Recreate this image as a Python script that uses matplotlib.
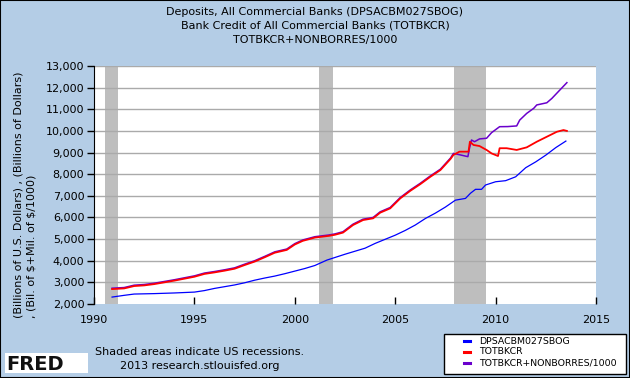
import matplotlib
matplotlib.use("Agg")
import matplotlib.pyplot as plt
from matplotlib.patches import Rectangle
from matplotlib.lines import Line2D
from matplotlib.ticker import FuncFormatter

# Deposits, All Commercial Banks (DPSACBM027SBOG)
dep_t = [1990.9, 1991.5, 1992.0, 1993.0, 1994.0, 1995.0, 1995.5, 1996.0, 1996.5, 1997.0,
         1997.5, 1998.0, 1998.5, 1999.0, 1999.5, 2000.0, 2000.5, 2001.0, 2001.6, 2002.0,
         2002.5, 2003.0, 2003.5, 2004.0, 2004.5, 2005.0, 2005.5, 2006.0, 2006.5, 2007.0,
         2007.5, 2008.0, 2008.5, 2008.75, 2009.0, 2009.3, 2009.5, 2010.0, 2010.5, 2011.0,
         2011.5, 2012.0, 2012.5, 2013.0, 2013.5]
dep_v = [2320, 2400, 2460, 2480, 2510, 2550, 2620, 2720, 2800, 2880,
         2980, 3100, 3200, 3290, 3400, 3520, 3640, 3780, 4030, 4150,
         4300, 4440, 4580, 4800, 4990, 5180, 5400, 5650, 5950, 6200,
         6480, 6800, 6880, 7120, 7300, 7300, 7500, 7650, 7700, 7880,
         8300, 8570, 8880, 9230, 9530]

# Bank Credit of All Commercial Banks (TOTBKCR)
cred_t = [1990.9, 1991.5, 1992.0, 1992.5, 1993.0, 1993.5, 1994.0, 1994.5, 1995.0, 1995.5,
          1996.0, 1996.5, 1997.0, 1997.5, 1998.0, 1998.5, 1999.0, 1999.6, 2000.0, 2000.4,
          2001.0, 2001.7, 2002.0, 2002.4, 2002.9, 2003.4, 2003.9, 2004.25, 2004.75, 2005.25,
          2005.75, 2006.25, 2006.75, 2007.25, 2007.75, 2007.9, 2008.2, 2008.65, 2008.72, 2008.9,
          2009.2, 2009.55, 2009.8, 2010.12, 2010.2, 2010.55, 2011.05, 2011.55, 2012.05, 2012.55,
          2013.05, 2013.38, 2013.55]
cred_v = [2690, 2720, 2830, 2860, 2920, 3000, 3080, 3170, 3260, 3390,
          3460, 3540, 3630, 3800, 3960, 4160, 4370, 4500, 4750, 4920,
          5070, 5150, 5200, 5300, 5650, 5880, 5960, 6220, 6420, 6880,
          7230, 7540, 7880, 8190, 8700, 8890, 9040, 9040, 9500, 9350,
          9300, 9120, 8960, 8840, 9200, 9200, 9120, 9240, 9500, 9730,
          9960, 10040, 10000]

# TOTBKCR+NONBORRES/1000
sum_t = [1990.9, 1991.5, 1992.0, 1992.5, 1993.0, 1993.5, 1994.0, 1994.5, 1995.0, 1995.5,
         1996.0, 1996.5, 1997.0, 1997.5, 1998.0, 1998.5, 1999.0, 1999.6, 2000.0, 2000.4,
         2001.0, 2001.7, 2002.0, 2002.4, 2002.9, 2003.4, 2003.9, 2004.25, 2004.75, 2005.25,
         2005.75, 2006.25, 2006.75, 2007.25, 2007.75, 2007.9, 2008.2, 2008.62, 2008.7, 2008.8,
         2008.95, 2009.2, 2009.55, 2009.8, 2010.2, 2010.6, 2011.05, 2011.2, 2011.55, 2011.9,
         2012.05, 2012.55, 2012.8, 2013.2, 2013.55]
sum_v = [2730, 2760, 2870, 2900, 2960, 3040, 3120, 3210, 3300, 3430,
         3500, 3580, 3670, 3840, 4000, 4200, 4410, 4540, 4790, 4960,
         5110, 5190, 5240, 5340, 5690, 5920, 6000, 6260, 6460, 6920,
         7270, 7580, 7920, 8230, 8740, 8960, 8900, 8810, 9200, 9580,
         9500, 9630, 9660, 9920, 10195, 10200, 10230, 10500, 10810, 11045,
         11200, 11300, 11500, 11890, 12230]

# US recessions
rec_start = [1990.55, 2001.2, 2007.95]
rec_end = [1991.2, 2001.9, 2009.5]

leg_labels = ["DPSACBM027SBOG", "TOTBKCR", "TOTBKCR+NONBORRES/1000"]
leg_colors = ["#0000ff", "#ff0000", "#6a00cc"]

icon_y = [1, 2, 1.6, 3, 2.5, 4]

W, H = 630, 378
bg = "#b4cde6"


def fx(px):
    return px / W


def fy(py):
    return 1 - py / H


fig = plt.figure(figsize=(6.3, 3.78), dpi=100, facecolor=bg)
ax = fig.add_axes([fx(94), fy(304), 502 / W, 238 / H])
ax.set_facecolor("white")

for s, e in zip(rec_start, rec_end):
    ax.axvspan(s, e, color="#bebebe", lw=0, zorder=1)

for v in range(3000, 13001, 1000):
    ax.axhline(v, color="#aaaaaa", lw=1.0, zorder=2)

ax.plot(dep_t, dep_v, color=leg_colors[0], lw=0.9, zorder=3)
ax.plot(sum_t, sum_v, color=leg_colors[2], lw=1.1, zorder=4)
ax.plot(cred_t, cred_v, color=leg_colors[1], lw=1.3, zorder=5)

ax.set_xlim(1990, 2015)
ax.set_ylim(2000, 13000)
ax.set_xticks(range(1990, 2016, 5))
ax.set_yticks(range(2000, 13001, 1000))
ax.yaxis.set_major_formatter(FuncFormatter(lambda v, p: f"{int(v):,}"))
for sp in ["top", "right", "bottom"]:
    ax.spines[sp].set_visible(False)
ax.spines["left"].set_color("black")
ax.tick_params(axis="y", direction="out", length=5, width=1, labelsize=8, pad=2)
ax.tick_params(axis="x", direction="in", length=5, width=1, labelsize=8, pad=8)

fig.text(0.5, fy(12), "Deposits, All Commercial Banks (DPSACBM027SBOG)",
         ha="center", va="center", fontsize=8)
fig.text(0.5, fy(26), "Bank Credit of All Commercial Banks (TOTBKCR)",
         ha="center", va="center", fontsize=8)
fig.text(0.5, fy(40), "TOTBKCR+NONBORRES/1000", ha="center", va="center", fontsize=8)

fig.text(fx(25), fy(318),
         "(Billions of U.S. Dollars) , (Billions of Dollars)\n, (Bil. of \\$+Mil. of \\$/1000)",
         rotation=90, ha="center", va="bottom", multialignment="left", fontsize=8,
         linespacing=1.3)

fig.text(fx(200), fy(352), "Shaded areas indicate US recessions.",
         ha="center", va="center", fontsize=8)
fig.text(fx(200), fy(366), "2013 research.stlouisfed.org",
         ha="center", va="center", fontsize=8)

# FRED logo
fig.patches.append(Rectangle((fx(5), fy(373)), 83 / W, 20 / H,
                             transform=fig.transFigure, facecolor="white", edgecolor="none"))
fig.text(fx(6), fy(364), "FRED", ha="left", va="center", fontsize=14,
         fontweight="bold", color="#111111")
iax = fig.add_axes([fx(71), fy(372), 16 / W, 17 / H])
iax.set_facecolor("#e4eaf0")
iax.plot(range(len(icon_y)), icon_y, color="#6aa84f", lw=0.8)
iax.set_xticks([])
iax.set_yticks([])
for sp in iax.spines.values():
    sp.set_visible(False)

# legend box drawn by hand
fig.patches.append(Rectangle((fx(444), fy(374)), 182 / W, 40 / H,
                             transform=fig.transFigure, facecolor="white",
                             edgecolor="black", lw=1.0))
for i, (lab, col) in enumerate(zip(leg_labels, leg_colors)):
    yy = fy(341 + 11 * i)
    fig.lines.append(Line2D([fx(464), fx(470)], [yy, yy], transform=fig.transFigure,
                            color=col, lw=2.2))
    fig.text(fx(479), yy, lab, ha="left", va="center", fontsize=6.75)

fig.patches.append(Rectangle((0, 0), 1, 1, transform=fig.transFigure,
                             facecolor="none", edgecolor="black", lw=1.5))

fig.savefig("out.png", dpi=100, facecolor=bg)
